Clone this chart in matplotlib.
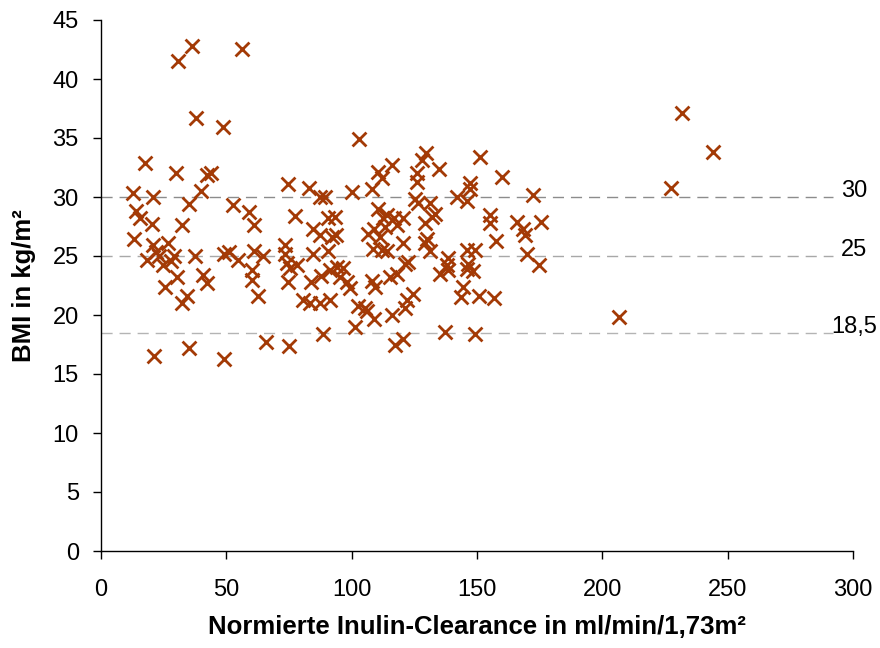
import matplotlib
matplotlib.use("Agg")
import matplotlib.pyplot as plt

clearance = [30.6, 36.4, 56.1, 38.0, 48.7, 17.6, 30.0, 42.4, 43.8, 12.6, 20.9, 39.8, 35.2, 52.5, 59.2, 13.8, 15.6,
             20.2, 32.3, 61.0, 13.2, 26.6, 20.6, 22.0, 23.0, 18.5, 29.1, 24.9, 27.8, 37.6, 30.4, 25.5, 34.4, 32.2,
             40.8, 42.4, 49.0, 51.0, 54.8, 61.0, 60.1, 60.4, 62.5, 21.1, 35.2, 49.1, 65.8,
             102.9, 74.7, 83.1, 87.4, 89.4, 100.0, 108.0, 110.4, 112.0, 116.2, 127.9, 129.7, 125.9, 125.9, 125.3,
             126.6, 64.5, 77.4, 73.4, 73.4, 74.1, 75.4, 74.7, 78.1, 84.7, 87.4, 84.7, 90.7, 83.8, 87.6, 80.7, 83.4,
             87.4, 91.4, 88.7, 75.1, 90.7, 93.3, 92.0, 93.7, 91.3, 94.3, 96.7, 95.3, 98.0, 99.3, 102.6, 105.3, 106.0,
             108.9, 101.3, 106.6, 108.9, 111.3, 113.3, 112.4, 110.6, 114.0, 108.6, 112.0, 114.0, 108.0, 109.3, 115.3,
             118.0, 116.9, 120.6, 118.0, 120.6, 121.3, 122.6, 124.6, 121.9, 121.3, 116.2, 117.3, 120.6, 129.2, 129.9,
             129.2,
             135.0, 151.2, 160.1, 147.2, 147.2, 145.9, 141.9, 172.2, 131.2, 133.2, 131.9, 131.2, 155.2, 155.2, 165.8,
             168.5, 169.1, 175.4, 157.6, 169.8, 174.9, 145.9, 149.2, 138.6, 137.9, 135.2, 138.6, 146.6, 145.9, 148.5,
             144.6, 143.5, 150.9, 156.8, 137.2, 149.2,
             231.9, 244.3, 227.4, 206.6]
bmi = [41.5, 42.8, 42.5, 36.7, 35.9, 32.9, 32.0, 31.9, 32.0, 30.3, 30.0, 30.5, 29.4, 29.3, 28.7, 28.8, 28.2,
       27.7, 27.6, 27.6, 26.4, 26.1, 25.9, 25.3, 25.0, 24.7, 25.0, 24.2, 24.6, 25.0, 23.2, 22.4, 21.6, 21.0,
       23.4, 22.7, 25.2, 25.3, 24.7, 25.4, 23.8, 23.0, 21.6, 16.5, 17.2, 16.3, 17.7,
       34.9, 31.1, 30.8, 30.0, 30.0, 30.4, 30.7, 32.1, 31.6, 32.7, 33.1, 33.7, 32.0, 31.3, 29.8,
       29.5, 25.0, 28.4, 25.9, 25.2, 24.4, 24.0, 22.8, 24.2, 27.3, 26.8, 25.2, 25.4, 22.8, 23.3, 21.3, 21.0,
       21.0, 21.3, 18.4, 17.4, 28.2, 28.3, 26.6, 26.8, 23.8, 24.1, 24.0, 23.2, 22.8, 22.3, 20.8, 20.6, 20.3,
       19.7, 19.0, 26.9, 27.3, 26.6, 27.5, 28.2, 29.0, 28.5, 25.6, 25.5, 25.4, 22.9, 22.4, 23.2,
       23.5, 28.2, 28.2, 27.6, 26.1, 24.3, 24.5, 21.8, 21.3, 20.6, 20.0, 17.5, 18.0, 27.8, 26.4,
       26.1,
       32.4, 33.4, 31.7, 31.2, 30.7, 29.7, 30.0, 30.2, 29.5, 28.6, 28.3, 25.4, 28.5, 27.8, 27.9,
       27.3, 26.8, 27.9, 26.3, 25.2, 24.2, 25.5, 25.5, 24.8, 24.2, 23.5, 23.8, 24.3, 23.9, 23.7,
       22.4, 21.5, 21.6, 21.4, 18.6, 18.4,
       37.1, 33.8, 30.8, 19.8]

ref_values = [30, 25, 18.5]
ref_labels = ["30", "25", "18,5"]
ref_colors = ["#8c8c8c", "#a8a8a8", "#b4b4b4"]

xticks = [0, 50, 100, 150, 200, 250, 300]
yticks = [0, 5, 10, 15, 20, 25, 30, 35, 40, 45]

plt.rcParams['font.family'] = ['Liberation Sans', 'DejaVu Sans']

fig = plt.figure(figsize=(8.8, 6.48), dpi=100)
ax = fig.add_axes([101/880, 1 - 551/648, 752/880, 531/648])

for v, lab, c in zip(ref_values, ref_labels, ref_colors):
    ax.plot([0, 292], [v, v], color=c, lw=1.0, dashes=(8, 5), zorder=1)
    ax.text(300.5, v + 0.5, lab, ha='center', va='center', fontsize=17, clip_on=False)

ax.scatter(clearance, bmi, marker='x', s=100, color='#a33a06', linewidths=2.0, zorder=3)

ax.set_xlim(0, 300)
ax.set_ylim(0, 45)
ax.set_xticks(xticks)
ax.set_yticks(yticks)
ax.tick_params(axis='both', labelsize=17, direction='out', length=6, width=1, color='black')
ax.tick_params(axis='x', pad=14)
ax.tick_params(axis='y', pad=10)
for s in ['top', 'right']:
    ax.spines[s].set_visible(False)
for s in ['left', 'bottom']:
    ax.spines[s].set_linewidth(1.0)
    ax.spines[s].set_color('black')

ax.set_xlabel("Normierte Inulin-Clearance in ml/min/1,73m²", fontsize=18.5, fontweight='bold', labelpad=10)
ax.set_ylabel("BMI in kg/m²", fontsize=18.5, fontweight='bold', labelpad=12)

fig.savefig("out.png", dpi=100)
